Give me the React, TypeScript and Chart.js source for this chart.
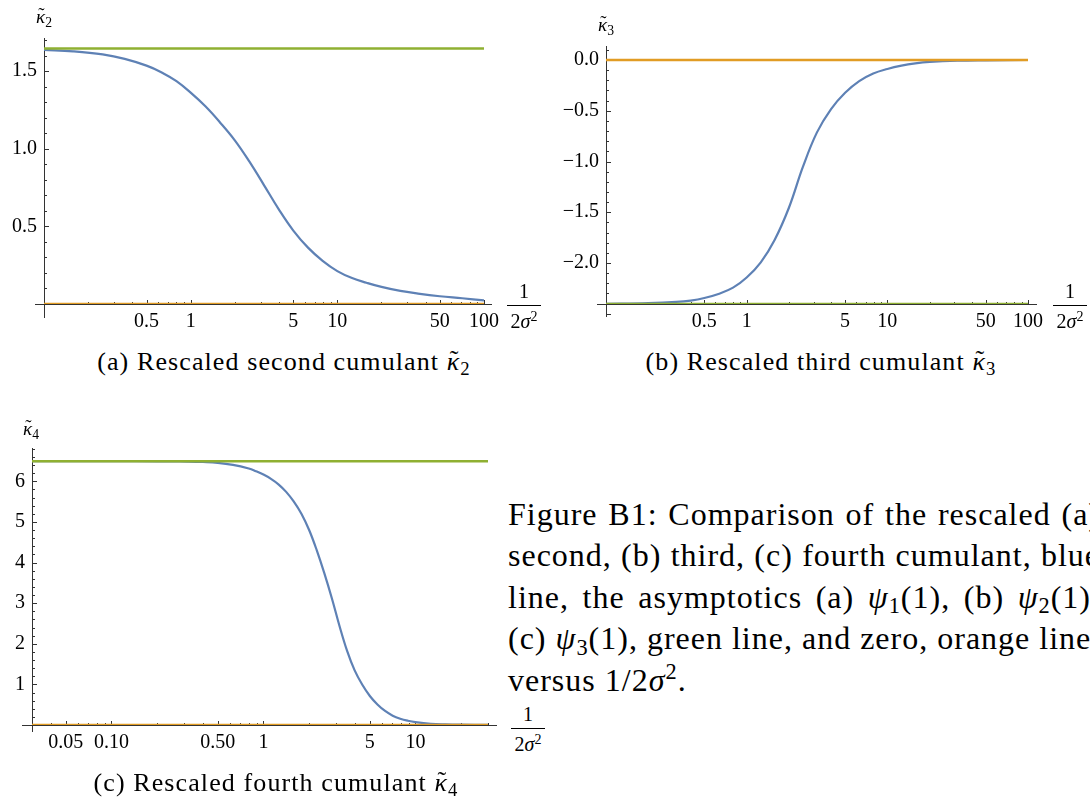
import React, { useEffect, useRef } from "react";
import { Chart, registerables } from "chart.js";

Chart.register(...registerables);

const BLUE = "#5E81B5";
const ORANGE = "#E19C24";
const GREEN = "#8FB032";
const AXIS = "#333333";
const FONT = '"Liberation Serif", "DejaVu Serif", serif';

// ---------- (a) rescaled second cumulant ----------
const kappa2X = [0.1, 0.158, 0.251, 0.355, 0.5, 0.63, 0.8, 1, 1.26, 1.58, 2, 2.51, 3.16, 3.98, 5.01, 6.31, 7.94, 10, 12.6, 15.8, 20, 26.9, 35.5, 50, 71, 100];
const kappa2Y = [1.637, 1.627, 1.607, 1.5785, 1.535, 1.493, 1.435, 1.361, 1.273, 1.171, 1.054, 0.918, 0.766, 0.611, 0.473, 0.363, 0.278, 0.212, 0.167, 0.137, 0.11, 0.084, 0.067, 0.05, 0.037, 0.023];
const psi1One = 1.645;

// ---------- (b) rescaled third cumulant ----------
const kappa3X = [0.1, 0.2, 0.316, 0.4, 0.5, 0.63, 0.8, 1, 1.26, 1.58, 2, 2.51, 3.16, 3.98, 5.01, 6.31, 7.94, 10, 12.6, 15.8, 20, 31.6, 50, 100];
const kappa3Y = [-2.403, -2.396, -2.384, -2.37, -2.345, -2.305, -2.243, -2.143, -1.993, -1.773, -1.453, -1.053, -0.713, -0.483, -0.323, -0.208, -0.133, -0.088, -0.055, -0.033, -0.019, -0.007, -0.003, 0];
const psi2One = -2.404;

// ---------- (c) rescaled fourth cumulant ----------
const kappa4X = [0.03, 0.1, 0.2, 0.25, 0.316, 0.4, 0.5, 0.63, 0.8, 0.89, 1, 1.12, 1.26, 1.41, 1.58, 1.78, 2, 2.24, 2.51, 2.82, 3.16, 3.55, 3.98, 4.47, 5.01, 5.62, 6.31, 7.08, 7.94, 8.91, 10, 12.6, 15.8, 20, 30];
const kappa4Y = [6.494, 6.494, 6.493, 6.491, 6.486, 6.475, 6.455, 6.405, 6.315, 6.25, 6.165, 6.06, 5.92, 5.74, 5.505, 5.195, 4.795, 4.305, 3.745, 3.115, 2.445, 1.825, 1.345, 0.99, 0.715, 0.505, 0.345, 0.23, 0.155, 0.105, 0.07, 0.03, 0.015, 0.008, 0.003];
const psi3One = 6.494;

const zeroValue = 0;

// ---------- ticks ----------
const abXMajor = [0.5, 1, 5, 10, 50, 100];
const abXLabels = ["0.5", "1", "5", "10", "50", "100"];
const abXMinor = [0.2, 0.3, 0.4, 0.6, 0.7, 0.8, 0.9, 2, 3, 4, 6, 7, 8, 9, 20, 30, 40, 60, 70, 80, 90];

const cXMajor = [0.05, 0.1, 0.5, 1, 5, 10];
const cXLabels = ["0.05", "0.10", "0.50", "1", "5", "10"];
const cXMinor = [0.04, 0.06, 0.07, 0.08, 0.09, 0.2, 0.3, 0.4, 0.6, 0.7, 0.8, 0.9, 2, 3, 4, 6, 7, 8, 9, 20, 30];

const aYMajor = [0.5, 1.0, 1.5];
const aYLabels = ["0.5", "1.0", "1.5"];
const aYMinor = [0.1, 0.2, 0.3, 0.4, 0.6, 0.7, 0.8, 0.9, 1.1, 1.2, 1.3, 1.4, 1.6, 1.7];

const bYMajor = [0, -0.5, -1, -1.5, -2];
const bYLabels = ["0.0", "\u22120.5", "\u22121.0", "\u22121.5", "\u22122.0"];
const bYMinor = [0.1, -0.1, -0.2, -0.3, -0.4, -0.6, -0.7, -0.8, -0.9, -1.1, -1.2, -1.3, -1.4, -1.6, -1.7, -1.8, -1.9, -2.1, -2.2, -2.3, -2.4];
const bYExtra = [-2.5];

const cYMajor = [1, 2, 3, 4, 5, 6];
const cYLabels = ["1", "2", "3", "4", "5", "6"];
const cYMinor = [0.2, 0.4, 0.6, 0.8, 1.2, 1.4, 1.6, 1.8, 2.2, 2.4, 2.6, 2.8, 3.2, 3.4, 3.6, 3.8, 4.2, 4.4, 4.6, 4.8, 5.2, 5.4, 5.6, 5.8, 6.2, 6.4, 6.6, 6.8];

type Box = { left: number; top: number; width: number; height: number };
type Area = { left: number; top: number; right: number; bottom: number };
type Spec = {
  xMin: number; xMax: number; yMin: number; yMax: number;
  cx: number[]; cy: number[]; asym: number;
  xMajor: number[]; xLabels: string[]; xMinor: number[];
  yMajor: number[]; yLabels: string[]; yMinor: number[]; yExtra: number[];
  canvas: Box; area: Area; ext: { left: number; right: number; bottom: number };
};

const specA: Spec = {
  xMin: 0.1, xMax: 100, yMin: 0, yMax: 1.713,
  cx: kappa2X, cy: kappa2Y, asym: psi1One,
  xMajor: abXMajor, xLabels: abXLabels, xMinor: abXMinor,
  yMajor: aYMajor, yLabels: aYLabels, yMinor: aYMinor, yExtra: [],
  canvas: { left: 0, top: 0, width: 540, height: 345 },
  area: { left: 44, top: 38, right: 484, bottom: 304 },
  ext: { left: 9, right: 8, bottom: 14 },
};

const specB: Spec = {
  xMin: 0.1, xMax: 100, yMin: -2.404, yMax: 0.138,
  cx: kappa3X, cy: kappa3Y, asym: psi2One,
  xMajor: abXMajor, xLabels: abXLabels, xMinor: abXMinor,
  yMajor: bYMajor, yLabels: bYLabels, yMinor: bYMinor, yExtra: bYExtra,
  canvas: { left: 545, top: 0, width: 545, height: 345 },
  area: { left: 606, top: 46, right: 1028, bottom: 304 },
  ext: { left: 9, right: 9, bottom: 13 },
};

const specC: Spec = {
  xMin: 0.03, xMax: 30, yMin: 0, yMax: 6.82,
  cx: kappa4X, cy: kappa4Y, asym: psi3One,
  xMajor: cXMajor, xLabels: cXLabels, xMinor: cXMinor,
  yMajor: cYMajor, yLabels: cYLabels, yMinor: cYMinor, yExtra: [],
  canvas: { left: 0, top: 400, width: 505, height: 370 },
  area: { left: 32, top: 448, right: 488, bottom: 725 },
  ext: { left: 10, right: 9, bottom: 7 },
};

function labelFor(v: number, vals: number[], labels: string[]) {
  for (let i = 0; i < vals.length; i++) {
    if (Math.abs(vals[i] - v) <= 1e-9 + Math.abs(vals[i]) * 1e-6) return labels[i];
  }
  return "";
}

function axesPlugin(spec: Spec) {
  return {
    id: "mmaAxes",
    beforeDatasetsDraw(chart: any) {
      const { ctx, chartArea: a } = chart;
      const sx = chart.scales.x;
      const sy = chart.scales.y;
      const x0 = Math.round(a.left) + 0.5;
      const y0 = Math.round(a.bottom) + 0.5;
      ctx.save();
      ctx.strokeStyle = AXIS;
      ctx.lineWidth = 1;
      ctx.beginPath();
      ctx.moveTo(a.left - spec.ext.left, y0);
      ctx.lineTo(a.right + spec.ext.right, y0);
      ctx.moveTo(x0, a.top);
      ctx.lineTo(x0, a.bottom + spec.ext.bottom);
      const xt = (v: number, len: number) => {
        const p = Math.round(sx.getPixelForValue(v)) + 0.5;
        ctx.moveTo(p, y0);
        ctx.lineTo(p, y0 - len);
      };
      spec.xMajor.forEach((v) => xt(v, 4.5));
      spec.xMinor.forEach((v) => xt(v, 2.5));
      const yt = (v: number, len: number) => {
        const p = Math.round(sy.getPixelForValue(v)) + 0.5;
        ctx.moveTo(x0, p);
        ctx.lineTo(x0 + len, p);
      };
      spec.yMajor.forEach((v) => yt(v, 4.5));
      spec.yExtra.forEach((v) => yt(v, 4.5));
      spec.yMinor.forEach((v) => yt(v, 2.5));
      ctx.stroke();
      ctx.restore();
    },
  };
}

function Plot({ spec }: { spec: Spec }) {
  const ref = useRef<HTMLCanvasElement>(null);
  useEffect(() => {
    const c = spec.canvas;
    const a = spec.area;
    const tickFont = { family: FONT, size: 20 };
    const chart = new Chart(ref.current as HTMLCanvasElement, {
      type: "line",
      data: {
        datasets: [
          {
            data: [{ x: spec.xMin, y: spec.asym }, { x: spec.xMax, y: spec.asym }],
            borderColor: GREEN, borderWidth: 2.6, pointRadius: 0, fill: false,
          },
          {
            data: [{ x: spec.xMin, y: zeroValue }, { x: spec.xMax, y: zeroValue }],
            borderColor: ORANGE, borderWidth: 2.6, pointRadius: 0, fill: false,
          },
          {
            data: spec.cx.map((x, i) => ({ x, y: spec.cy[i] })),
            borderColor: BLUE, borderWidth: 2.2, pointRadius: 0, fill: false,
            tension: 0.4,
          },
        ],
      } as any,
      options: {
        responsive: false,
        animation: false,
        events: [],
        layout: {
          padding: {
            left: 0,
            top: a.top - c.top,
            right: c.left + c.width - a.right,
            bottom: 0,
          },
        },
        plugins: { legend: { display: false }, tooltip: { enabled: false } },
        scales: {
          x: {
            type: "logarithmic",
            min: spec.xMin,
            max: spec.xMax,
            bounds: "data",
            grid: { display: false, drawTicks: false },
            border: { display: false },
            ticks: {
              autoSkip: false, maxRotation: 0, minRotation: 0, padding: 6,
              font: tickFont, color: "#000",
              callback: (v: any) => labelFor(Number(v), spec.xMajor, spec.xLabels),
            },
            afterBuildTicks: (s: any) => { s.ticks = spec.xMajor.map((v) => ({ value: v })); },
            afterFit: (s: any) => { s.height = c.top + c.height - a.bottom; },
          },
          y: {
            type: "linear",
            min: spec.yMin,
            max: spec.yMax,
            bounds: "data",
            grid: { display: false, drawTicks: false },
            border: { display: false },
            ticks: {
              autoSkip: false, padding: 7,
              font: tickFont, color: "#000",
              callback: (v: any) => labelFor(Number(v), spec.yMajor, spec.yLabels),
            },
            afterBuildTicks: (s: any) => { s.ticks = spec.yMajor.map((v) => ({ value: v })); },
            afterFit: (s: any) => { s.width = a.left - c.left; },
          },
        },
      } as any,
      plugins: [axesPlugin(spec)],
    });
    return () => chart.destroy();
  }, [spec]);
  const c = spec.canvas;
  return (
    <canvas
      ref={ref}
      width={c.width}
      height={c.height}
      style={{ position: "absolute", left: c.left, top: c.top, width: c.width, height: c.height }}
    />
  );
}

function At({ x, y, size, children, style }: { x: number; y: number; size: number; children: any; style?: any }) {
  return (
    <div
      style={{
        position: "absolute", left: x, top: y, transform: "translate(-50%, -50%)",
        fontSize: size, lineHeight: 1, whiteSpace: "nowrap", ...style,
      }}
    >
      {children}
    </div>
  );
}

function KappaT({ n }: { n: string }) {
  return (
    <span>
      <span style={{ position: "relative", display: "inline-block", fontStyle: "italic" }}>
        {"\u03BA"}
        <span style={{ position: "absolute", left: "0.12em", top: "-0.08em", fontStyle: "normal" }}>{"\u02DC"}</span>
      </span>
      <span style={{ fontSize: "0.72em", position: "relative", top: "0.28em", fontStyle: "normal" }}>{n}</span>
    </span>
  );
}

function Frac({ x, barY }: { x: number; barY: number }) {
  return (
    <>
      <At x={x} y={barY - 14} size={20}>1</At>
      <div style={{ position: "absolute", left: x - 17, top: barY, width: 34, height: 1, background: "#000" }} />
      <At x={x} y={barY + 16} size={20}>
        2<span style={{ fontStyle: "italic" }}>σ</span>
        <span style={{ fontSize: "0.7em", position: "relative", top: "-0.5em" }}>2</span>
      </At>
    </>
  );
}

function Psi({ n }: { n: string }) {
  return (
    <span>
      <span style={{ fontStyle: "italic" }}>ψ</span>
      <span style={{ fontSize: "0.7em", position: "relative", top: "0.25em" }}>{n}</span>
    </span>
  );
}

const lineStyle: any = {
  position: "absolute", left: 508, width: 592, height: 41.5, lineHeight: "41.5px",
  fontSize: 32, whiteSpace: "nowrap", textAlign: "justify", textAlignLast: "justify", letterSpacing: 1,
};

export default function App() {
  return (
    <div
      style={{
        position: "absolute", left: 0, top: 0, width: 1090, height: 803, overflow: "hidden",
        background: "#fff", fontFamily: FONT, color: "#000",
      }}
    >
      <Plot spec={specA} />
      <Plot spec={specB} />
      <Plot spec={specC} />

      <At x={44} y={16} size={19}><KappaT n="2" /></At>
      <At x={606} y={24} size={19}><KappaT n="3" /></At>
      <At x={31} y={428} size={19}><KappaT n="4" /></At>

      <Frac x={524} barY={305} />
      <Frac x={1070} barY={305} />
      <Frac x={528} barY={728} />

      <At x={284} y={362} size={26} style={{ letterSpacing: 1.1 }}>
        (a) Rescaled second cumulant <KappaT n="2" />
      </At>
      <At x={821} y={362} size={26} style={{ letterSpacing: 1.1 }}>
        (b) Rescaled third cumulant <KappaT n="3" />
      </At>
      <At x={276} y={783} size={26} style={{ letterSpacing: 1.1 }}>
        (c) Rescaled fourth cumulant <KappaT n="4" />
      </At>

      <div style={{ ...lineStyle, top: 493.5 }}>Figure B1: Comparison of the rescaled (a)</div>
      <div style={{ ...lineStyle, top: 535 }}>second, (b) third, (c) fourth cumulant, blue</div>
      <div style={{ ...lineStyle, top: 576.5 }}>
        line, the asymptotics (a) <Psi n="1" />(1), (b) <Psi n="2" />(1),
      </div>
      <div style={{ ...lineStyle, top: 618 }}>
        (c) <Psi n="3" />(1), green line, and zero, orange line,
      </div>
      <div style={{ ...lineStyle, top: 659.5, textAlign: "left", textAlignLast: "left" }}>
        versus 1/2<span style={{ fontStyle: "italic" }}>σ</span>
        <span style={{ fontSize: "0.7em", position: "relative", top: "-0.5em" }}>2</span>.
      </div>
    </div>
  );
}
